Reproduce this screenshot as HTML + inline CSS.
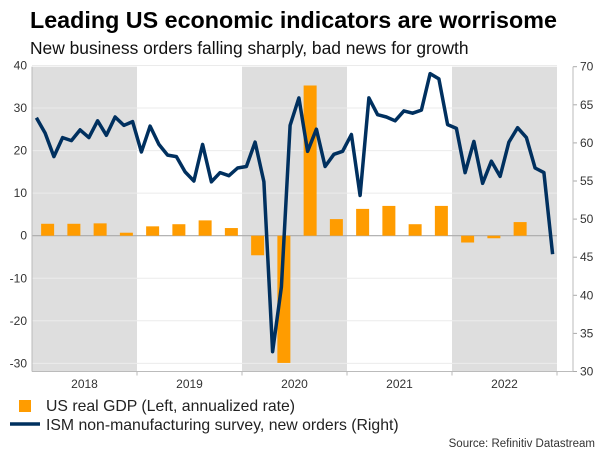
<!DOCTYPE html>
<html><head><meta charset="utf-8"><style>
body{margin:0;background:#fff}
svg{display:block;font-family:"Liberation Sans",Arial,sans-serif}
</style></head><body>
<svg id="chart" width="600" height="450" viewBox="0 0 600 450">
<text x="30" y="28" font-size="23.3" font-weight="bold" fill="#000">Leading US economic indicators are worrisome</text>
<text x="30" y="54" font-size="17.4" fill="#111">New business orders falling sharply, bad news for growth</text>
<g id="bands"></g><g id="grid"></g><g id="bars"></g><g id="lineg"></g><g id="axes"></g>
<rect x="19" y="400" width="12" height="12" fill="#ff9c00"/>
<text x="46" y="411" font-size="15.8" fill="#222">US real GDP (Left, annualized rate)</text>
<line x1="10" y1="424" x2="40" y2="424" stroke="#00305f" stroke-width="3.5"/>
<text x="46" y="430" font-size="15.8" fill="#222">ISM non-manufacturing survey, new orders (Right)</text>
<text x="595" y="447" font-size="11.5" fill="#333" text-anchor="end">Source: Refinitiv Datastream</text>
</svg>
<script>
const years = ["2018","2019","2020","2021","2022"];
const shadedYears = ["2018","2020","2022"];
const leftTicks = [40,30,20,10,0,-10,-20,-30];
const rightTicks = [70,65,60,55,50,45,40,35,30];
const gdp = [2.8,2.8,2.9,0.7, 2.2,2.7,3.6,1.8, -4.6,-29.9,35.3,3.9, 6.3,7.0,2.7,7.0, -1.6,-0.6,3.2,null];
const ism = [63.3,61.3,58.2,60.7,60.3,61.7,60.7,62.9,61.0,63.4,62.3,62.8,
 58.8,62.2,59.8,58.4,58.2,56.2,55.0,59.8,54.9,56.1,55.7,56.7,
 56.9,60.1,54.9,32.6,41.1,62.3,65.9,58.9,61.8,56.9,58.5,58.9,
 61.1,53.1,65.9,63.7,63.4,62.9,64.2,63.9,64.3,69.1,68.4,62.4,
 61.9,56.1,60.2,54.7,57.6,55.6,60.1,62.0,60.7,56.7,56.1,45.4];

const NS="http://www.w3.org/2000/svg";
const X0=32, YW=105, TOP=66.7, BOT=371.5;
const yL = v => 235.7 - v*4.255;
const yR = v => TOP + (70-v)*(BOT-TOP)/40;
const xYear = i => X0 + i*YW;
const xMonth = i => X0 + (i+0.5)*YW/12;
const xQuarter = i => X0 + (i+0.5)*YW/4 + 2.5;
function mk(tag, attrs, parent){const e=document.createElementNS(NS,tag);for(const k in attrs)e.setAttribute(k,attrs[k]);document.getElementById(parent).appendChild(e);return e;}

years.forEach((y,i)=>{
  if(shadedYears.includes(y)){
    const r=mk('rect',{x:xYear(i),y:TOP,width:YW,height:BOT-TOP,fill:'#dedede'},'bands');
    
    
  }
});
leftTicks.forEach(t=>{
  const l=mk('line',{x1:X0,x2:xYear(5),y1:yL(t),y2:yL(t),stroke:t===0?'#aaa':'#ebebeb','stroke-width':t===0?1.2:1},'grid');
  
  
  const tx=mk('text',{x:27,y:yL(t)+4,'font-size':12,fill:'#333','text-anchor':'end'},'axes');
  tx.textContent=t;
  
  
});
rightTicks.forEach(t=>{
  const tk=mk('line',{x1:573,x2:577,y1:yR(t),y2:yR(t),stroke:'#aaa'},'axes');
  
  
  const tx=mk('text',{x:580,y:yR(t)+4,'font-size':12,fill:'#333'},'axes');
  tx.textContent=t;
  
  
});
gdp.forEach((v,i)=>{
  if(v===null)return;
  const b=mk('rect',{x:xQuarter(i)-6.5,width:13,y:Math.min(yL(v),yL(0)),height:Math.abs(yL(v)-yL(0)),fill:'#ff9c00'},'bars');
  
  
});
const pl=mk('polyline',{points:ism.map((v,i)=>xMonth(i).toFixed(1)+','+yR(v).toFixed(1)).join(' '),fill:'none',stroke:'#00305f','stroke-width':3.5,'stroke-linejoin':'round'},'lineg');


const la=mk('line',{x1:X0,x2:X0,y1:TOP,y2:BOT,stroke:'#bbb'},'axes');


const ra=mk('line',{x1:573,x2:573,y1:TOP,y2:BOT,stroke:'#bbb'},'axes');


const xa=mk('line',{x1:X0,x2:573,y1:BOT,y2:BOT,stroke:'#bbb'},'axes');


years.forEach((y,i)=>{
  const tk=mk('line',{x1:xYear(i+1),x2:xYear(i+1),y1:BOT,y2:BOT+4,stroke:'#bbb'},'axes');
  
  
  const tx=mk('text',{x:xYear(i)+YW/2,y:388,'font-size':12,fill:'#333','text-anchor':'middle'},'axes');
  tx.textContent=y;
  
  
});
</script>
</body></html>
